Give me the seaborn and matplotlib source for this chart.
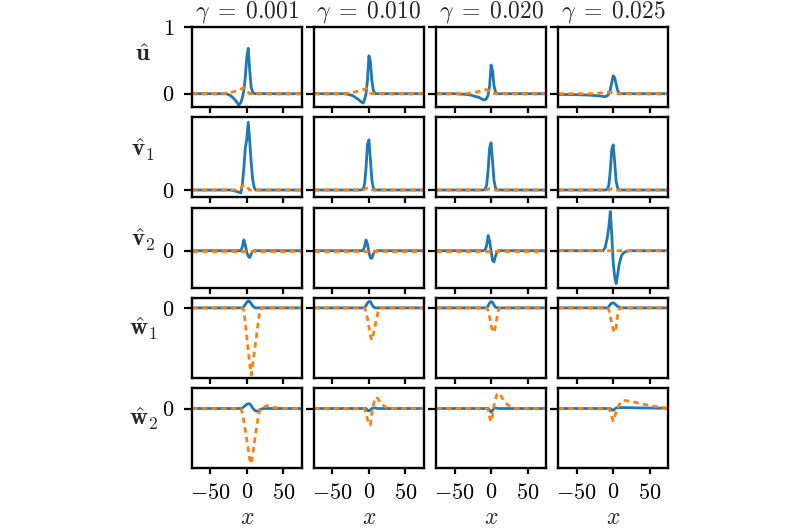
import matplotlib
matplotlib.use("Agg")
import matplotlib.pyplot as plt
import seaborn as sns

# shared x grid
X = [-75, -50, -35, -28, -22, -18, -14,
     -11, -8, -6, -4, -2, 0, 2,
     4, 6, 8, 10, 12, 14, 16,
     18, 22, 28, 35, 50, 60, 75]

GAMMAS = ["0.001", "0.010", "0.020", "0.025"]
ROW_LABELS = [r"$\hat{\mathbf{u}}$", r"$\hat{\mathbf{v}}_1$", r"$\hat{\mathbf{v}}_2$",
              r"$\hat{\mathbf{w}}_1$", r"$\hat{\mathbf{w}}_2$"]
ROW_YLIM = [(-0.2, 1.0), (-0.1, 1.0), (-0.46, 0.54), (-1.0, 0.145), (-1.0, 0.345)]
ROW_YTICKS = [[0, 1], [0], [0], [0], [0]]
X_TICKS = [-50, 0, 50]

# u-hat (solid = blue, dashed = orange), one list per gamma
U_SOLID = [
    [0, 0, 0, 0, -0.03, -0.07, -0.12,
     -0.17, -0.13, -0.06, 0.05, 0.25, 0.55, 0.68,
     0.35, 0.1, 0.02, 0, 0, 0, 0,
     0, 0, 0, 0, 0, 0, 0],
    [0, 0, 0, -0.01, -0.03, -0.06, -0.09,
     -0.12, -0.14, -0.09, 0.0, 0.2, 0.57, 0.48,
     0.2, 0.05, 0.01, 0, 0, 0, 0,
     0, 0, 0, 0, 0, 0, 0],
    [0, 0, -0.01, -0.02, -0.04, -0.05, -0.07,
     -0.09, -0.09, -0.07, -0.02, 0.12, 0.43, 0.35,
     0.12, 0.03, 0, 0, 0, 0, 0,
     0, 0, 0, 0, 0, 0, 0],
    [-0.01, -0.015, -0.02, -0.025, -0.03, -0.035, -0.04,
     -0.045, -0.03, 0.0, 0.06, 0.17, 0.27, 0.24,
     0.14, 0.05, 0.01, 0, 0, 0, 0,
     0, 0, 0, 0, 0, 0, 0],
]
U_DASH = [
    [0, 0, 0, 0.01, 0.02, 0.03, 0.05,
     0.06, 0.07, 0.08, 0.09, 0.08, 0.05, 0.02,
     0, 0, 0, 0, 0, 0, 0,
     0, 0, 0, 0, 0, 0, 0],
    [0, 0, 0, 0.01, 0.02, 0.03, 0.04,
     0.05, 0.06, 0.07, 0.08, 0.07, 0.04, 0.01,
     0, 0, 0, 0, 0, 0, 0,
     0, 0, 0, 0, 0, 0, 0],
    [0, 0, 0, 0.01, 0.02, 0.03, 0.04,
     0.05, 0.06, 0.06, 0.05, 0.03, 0.01, 0,
     0, 0, 0, 0, 0, 0, 0,
     0, 0, 0, 0, 0, 0, 0],
    [0, 0, 0, 0, 0.005, 0.01, 0.015,
     0.02, 0.02, 0.02, 0.02, 0.015, 0.01, 0.005,
     0, 0, 0, 0, 0, 0, 0,
     0, 0, 0, 0, 0, 0, 0],
]

V1_SOLID = [
    [0, 0, 0, 0, 0, -0.01, -0.02,
     -0.03, -0.04, 0.08, 0.3, 0.58, 0.7, 0.93,
     0.68, 0.38, 0.15, 0.04, 0, 0, 0,
     0, 0, 0, 0, 0, 0, 0],
    [0, 0, 0, 0, 0, 0, 0,
     0, 0.01, 0.08, 0.3, 0.62, 0.69, 0.42,
     0.14, 0.03, 0, 0, 0, 0, 0,
     0, 0, 0, 0, 0, 0, 0],
    [0, 0, 0, 0, 0, 0, 0,
     0, 0.01, 0.07, 0.28, 0.58, 0.65, 0.4,
     0.13, 0.03, 0, 0, 0, 0, 0,
     0, 0, 0, 0, 0, 0, 0],
    [0, 0, 0, 0, 0, 0, 0,
     0, 0.01, 0.07, 0.27, 0.56, 0.62, 0.38,
     0.12, 0.03, 0, 0, 0, 0, 0,
     0, 0, 0, 0, 0, 0, 0],
]
V1_DASH = [
    [0, 0, 0, 0, 0, 0, 0,
     0.01, 0.03, 0.05, 0.07, 0.07, 0.05, 0.02,
     0, 0, 0, 0, 0, 0, 0,
     0, 0, 0, 0, 0, 0, 0],
    [0, 0, 0, 0, 0, 0, 0,
     0, 0, 0.01, 0.02, 0.03, 0.03, 0.01,
     0, 0, 0, 0, 0, 0, 0,
     0, 0, 0, 0, 0, 0, 0],
    [0, 0, 0, 0, 0, 0, 0,
     0, 0, 0, 0.01, 0.02, 0.02, 0.01,
     0, 0, 0, 0, 0, 0, 0,
     0, 0, 0, 0, 0, 0, 0],
    [0, 0, 0, 0, 0, 0, 0,
     0, 0, 0, 0.01, 0.02, 0.02, 0.01,
     0, 0, 0, 0, 0, 0, 0,
     0, 0, 0, 0, 0, 0, 0],
]

V2_SOLID = [
    [0, 0, 0, 0, 0, 0, 0,
     0, 0, 0.05, 0.135, 0.07, -0.02, -0.07,
     -0.085, -0.04, -0.01, 0, 0, 0, 0,
     0, 0, 0, 0, 0, 0, 0],
    [0, 0, 0, 0, 0, 0, 0,
     0, 0, 0.05, 0.135, 0.08, -0.02, -0.09,
     -0.095, -0.04, -0.01, 0, 0, 0, 0,
     0, 0, 0, 0, 0, 0, 0],
    [0, 0, 0, 0, 0, 0, 0,
     0, 0.01, 0.07, 0.19, 0.12, 0.0, -0.12,
     -0.14, -0.07, -0.02, 0, 0, 0, 0,
     0, 0, 0, 0, 0, 0, 0],
    [0, 0, 0, 0, 0, 0, 0,
     0.04, 0.17, 0.3, 0.49, 0.2, -0.15, -0.33,
     -0.41, -0.3, -0.18, -0.1, -0.05, -0.03, -0.015,
     -0.01, 0, 0, 0, 0, 0, 0],
]
V2_DASH = [
    [0, 0, 0, 0, 0, 0, 0,
     0, 0, 0, 0, 0, 0, 0,
     0, 0, 0, 0, 0, 0, 0,
     0, 0, 0, 0, 0, 0, 0],
    [0, 0, 0, 0, 0, 0, 0,
     0, 0, 0, 0, 0, 0, 0,
     0, 0, 0, 0, 0, 0, 0,
     0, 0, 0, 0, 0, 0, 0],
    [0, 0, 0, 0, 0, 0, 0,
     0, 0, 0, 0, 0, 0, 0,
     0, 0, 0, 0, 0, 0, 0,
     0, 0, 0, 0, 0, 0, 0],
    [0, 0, 0, 0, 0, 0, 0,
     0, 0, 0, 0, 0.005, 0.005, 0,
     0, 0, 0, 0, 0, 0, 0,
     0, 0, 0, 0, 0, 0, 0],
]

W1_SOLID = [
    [0, 0, 0, 0, 0, 0, 0,
     0, 0, 0, 0.02, 0.05, 0.08, 0.1,
     0.09, 0.06, 0.03, 0.01, 0, 0, 0,
     0, 0, 0, 0, 0, 0, 0],
    [0, 0, 0, 0, 0, 0, 0,
     0, 0, 0, 0.03, 0.07, 0.09, 0.09,
     0.05, 0.02, 0, 0, 0, 0, 0,
     0, 0, 0, 0, 0, 0, 0],
    [0, 0, 0, 0, 0, 0, 0,
     0, 0, 0, 0.03, 0.07, 0.09, 0.08,
     0.04, 0.01, 0, 0, 0, 0, 0,
     0, 0, 0, 0, 0, 0, 0],
    [0, 0, 0, 0, 0, 0, 0,
     0, 0, 0.02, 0.05, 0.07, 0.07, 0.06,
     0.04, 0.02, 0.01, 0, 0, 0, 0,
     0, 0, 0, 0, 0, 0, 0],
]
W1_DASH = [
    [0, 0, 0, 0, 0, 0, 0,
     0, 0, 0, -0.04, -0.22, -0.42, -0.6,
     -0.8, -0.96, -0.82, -0.66, -0.5, -0.35, -0.18,
     -0.02, 0, 0, 0, 0, 0, 0],
    [0, 0, 0, 0, 0, 0, 0,
     0, 0, 0, -0.05, -0.15, -0.27, -0.4,
     -0.46, -0.38, -0.28, -0.17, -0.08, -0.01, 0,
     0, 0, 0, 0, 0, 0, 0],
    [0, 0, 0, 0, 0, 0, 0,
     0, 0, 0, -0.04, -0.13, -0.24, -0.33,
     -0.35, -0.26, -0.14, -0.03, 0, 0, 0,
     0, 0, 0, 0, 0, 0, 0],
    [0, 0, 0, 0, 0, 0, 0,
     0, 0, -0.03, -0.12, -0.22, -0.31, -0.35,
     -0.27, -0.1, -0.02, 0, 0, 0, 0,
     0, 0, 0, 0, 0, 0, 0],
]

W2_SOLID = [
    [0, 0, 0, 0, 0, 0, 0,
     0, 0, 0.01, 0.03, 0.05, 0.07, 0.08,
     0.08, 0.05, 0.01, -0.02, -0.04, -0.045, -0.04,
     -0.02, 0, 0, 0, 0, 0, 0],
    [0, 0, 0, 0, 0, 0, 0,
     0, 0, 0, 0, -0.03, -0.04, -0.02,
     0, 0.01, 0.01, 0.005, 0, 0, 0,
     0, 0, 0, 0, 0, 0, 0],
    [0, 0, 0, 0, 0, 0, 0,
     0, 0, 0, 0, -0.03, -0.06, -0.03,
     0, 0.01, 0.005, 0, 0, 0, 0,
     0, 0, 0, 0, 0, 0, 0],
    [0, 0, 0, 0, 0, 0, 0,
     0, 0, 0, 0, -0.02, -0.03, -0.01,
     0.01, 0.015, 0.015, 0.015, 0.015, 0.015, 0.015,
     0.015, 0.015, 0.012, 0.01, 0.008, 0.006, 0.005],
]
W2_DASH = [
    [0, 0, 0, 0, 0, 0, 0,
     0, 0, -0.08, -0.22, -0.37, -0.52, -0.68,
     -0.85, -0.93, -0.78, -0.6, -0.43, -0.27, -0.12,
     0.0, 0.02, 0.05, 0.02, 0, 0, 0],
    [0, 0, 0, 0, 0, 0, 0,
     0, 0, 0, -0.08, -0.18, -0.25, -0.28,
     -0.08, 0.06, 0.15, 0.19, 0.17, 0.13, 0.1,
     0.07, 0.03, 0, 0, 0, 0, 0],
    [0, 0, 0, 0, 0, 0, 0,
     0, 0, 0, -0.02, -0.15, -0.22, -0.12,
     0.05, 0.15, 0.24, 0.26, 0.24, 0.2, 0.16,
     0.12, 0.07, 0.02, 0, 0, 0, 0],
    [0, 0, 0, 0, 0, 0, 0,
     0, 0, 0, -0.05, -0.14, -0.21, -0.14,
     -0.05, 0.01, 0.06, 0.1, 0.125, 0.135, 0.135,
     0.13, 0.125, 0.11, 0.09, 0.05, 0.03, 0.005],
]

ROWS_SOLID = [U_SOLID, V1_SOLID, V2_SOLID, W1_SOLID, W2_SOLID]
ROWS_DASH = [U_DASH, V1_DASH, V2_DASH, W1_DASH, W2_DASH]
LABEL_Y = [0.65, 0.59, 0.6, 0.61, 0.61]

BLUE = "#1f77b4"
ORANGE = "#ff7f0e"

sns.set_theme(style="ticks")
plt.rcParams.update({
    "font.family": ["cmr10", "DejaVu Serif"],
    "mathtext.fontset": "cm",
    "axes.formatter.use_mathtext": True,
    "axes.edgecolor": "black",
    "axes.linewidth": 1.7,
    "xtick.color": "black",
    "ytick.color": "black",
    "xtick.major.width": 1.6,
    "ytick.major.width": 1.6,
    "xtick.major.size": 4.5,
    "ytick.major.size": 6,
    "xtick.major.pad": 6,
    "ytick.major.pad": 7,
    "xtick.labelsize": 16,
    "ytick.labelsize": 16,
    "xtick.direction": "out",
    "ytick.direction": "out",
})

fig = plt.figure(figsize=(8, 5.3), dpi=100)
gs = fig.add_gridspec(5, 4, left=0.24, right=0.835, top=0.949, bottom=0.117,
                      wspace=0.115, hspace=0.128)
axes = gs.subplots(sharex=True, sharey="row")

for r in range(5):
    for c in range(4):
        ax = axes[r, c]
        sns.lineplot(x=X, y=ROWS_SOLID[r][c], ax=ax, color=BLUE, linewidth=2.0)
        sns.lineplot(x=X, y=ROWS_DASH[r][c], ax=ax, color=ORANGE, linewidth=2.0,
                     linestyle=(0, (2.0, 1.5)))
        ax.set_xlim(-75, 75)
        ax.set_ylim(*ROW_YLIM[r])
        ax.set_xticks(X_TICKS)
        ax.set_yticks(ROW_YTICKS[r])
        ax.set_ylabel("")
        ax.set_xlabel("")
        for s in ax.spines.values():
            s.set_visible(True)
            s.set_color("black")
            s.set_linewidth(1.7)
    axes[r, 0].set_ylabel(ROW_LABELS[r], rotation=0, fontsize=18,
                          ha="center", va="center")
    axes[r, 0].yaxis.set_label_coords(-0.445, LABEL_Y[r])

for c in range(4):
    axes[0, c].set_title(r"$\gamma\;=\;%s$" % GAMMAS[c], fontsize=17, pad=7)
    axes[4, c].set_xlabel(r"$x$", fontsize=17, labelpad=3)

fig.savefig("out.png", dpi=100)
